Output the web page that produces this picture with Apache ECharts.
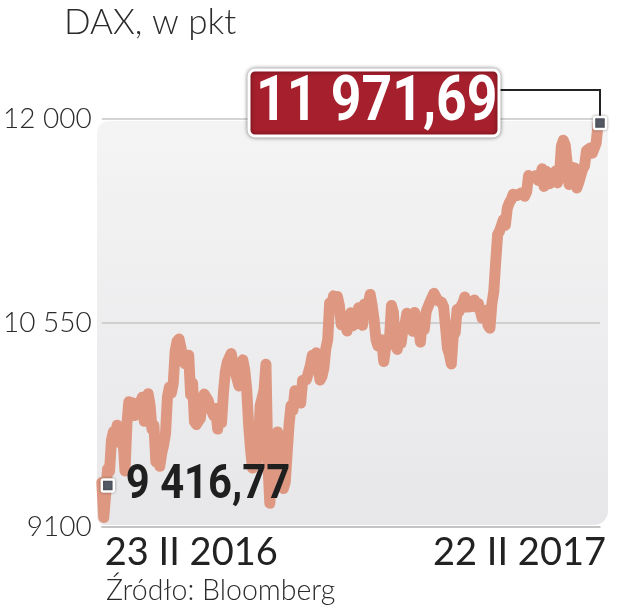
<!DOCTYPE html>
<html><head><meta charset="utf-8">
<script src="https://cdn.jsdelivr.net/npm/echarts@6/dist/echarts.min.js"></script>
<style>html,body{margin:0;padding:0;background:#fff}#c{width:618px;height:613px}</style>
</head><body><div id="c"></div>
<script>
const titleText = 'DAX, w pkt';
const sourceText = 'Źródło: Bloomberg';
const startDate = '2016-02-23';
const endDate = '2017-02-22';
const holidays = ['2016-03-25', '2016-03-28', '2016-12-26'];
const xTickLabels = ['23 II 2016', '22 II 2017'];
const yTicks = [9100, 10550, 12000];
const yTickLabels = ['9100', '10 550', '12 000'];
const startLabel = '9 416,77';
const endLabel = '11 971,69';
const values = [
  9416.77, 9168, 9331, 9513, 9495,
  9717, 9777, 9752, 9824, 9779, 9693, 9723, 9498, 9831, 9990, 9934, 9983, 9892, 9951, 9949, 9990, 10023, 9851, 9888, 10047, 9966,
  9795, 9822, 9563, 9624, 9531, 9622, 9683, 9762, 10026, 10094, 10052, 10120, 10350, 10421, 10436, 10374, 10294, 10260, 10300, 10321, 10039,
  10123, 9849, 9828, 9852, 9870, 9981, 10045, 10036, 10002, 9953, 9953, 9890, 9943, 9796, 9916, 9842, 10057, 10205, 10273, 10286, 10333, 10263,
  10204, 10208, 10103, 10121, 10288, 10217, 10089, 9835, 9657, 9519, 9607, 9551, 9631, 9962, 10016, 10071, 10257, 9557, 9269, 9447, 9612, 9680,
  9776, 9709, 9533, 9373, 9419, 9630, 9833, 9964, 9931, 10068, 10067, 10063, 9981, 10142, 10156, 10148, 10198, 10248, 10320, 10275, 10338,
  10331, 10144, 10170, 10228, 10367, 10432, 10693, 10651, 10743, 10713, 10739, 10677, 10538, 10603, 10544, 10494, 10593, 10623, 10530, 10588, 10544, 10658, 10593,
  10534, 10684, 10672, 10687, 10753, 10675, 10573, 10432, 10387, 10378, 10431, 10276, 10374, 10394, 10437, 10674, 10627, 10394, 10362, 10438, 10406, 10511,
  10540, 10620, 10586, 10569, 10491, 10624, 10577, 10523, 10414, 10580, 10504, 10632, 10646, 10701, 10711, 10761, 10757, 10710, 10717, 10696, 10665,
  10526, 10371, 10326, 10259, 10457, 10482, 10646, 10630, 10668, 10694, 10735, 10664, 10658, 10665, 10685, 10714, 10662, 10689, 10699, 10583, 10621, 10640,
  10534, 10513, 10685, 10775, 10987, 11179, 11204, 11190, 11285, 11245, 11366, 11404, 11427, 11465, 11469, 11456, 11450, 11473, 11475, 11451, 11481,
  11598, 11585, 11584, 11585, 11599, 11563, 11583, 11646, 11521, 11629, 11555, 11540, 11599, 11597, 11630, 11546, 11595, 11806, 11849, 11814, 11682, 11535,
  11660, 11627, 11652, 11510, 11549, 11543, 11643, 11667, 11774, 11772, 11794, 11757, 11757, 11828, 11968, 11971.69
];

// trading-day categories
const categories = [];
for (let d = new Date(startDate + 'T00:00:00Z'); d <= new Date(endDate + 'T00:00:00Z'); d.setUTCDate(d.getUTCDate() + 1)) {
  const wd = d.getUTCDay();
  const s = d.toISOString().slice(0, 10);
  if (wd === 0 || wd === 6 || holidays.indexOf(s) >= 0) continue;
  categories.push(s);
}

const chart = echarts.init(document.getElementById('c'), null, {renderer: 'canvas'});
const lastIdx = categories.length - 1;
const xLabelFont = {fontFamily: 'Lato', fontSize: 38, color: '#222222'};

chart.setOption({
  animation: false,
  backgroundColor: '#ffffff',
  title: [
    {text: titleText, left: 59, top: 0, textStyle: {fontFamily: 'Lato', fontWeight: 300, fontSize: 35, color: '#2b2b2b'}},
    {text: sourceText, left: 101, top: 571, textStyle: {fontFamily: 'Lato', fontWeight: 300, fontSize: 28.5, color: '#2b2b2b'}}
  ],
  grid: {left: 100, right: 18, top: 119, bottom: 86},
  xAxis: {
    type: 'category',
    data: categories,
    boundaryGap: false,
    axisLine: {show: true, lineStyle: {color: '#bdbdbd', width: 1.5}},
    axisTick: {show: false},
    splitLine: {show: false},
    axisLabel: {
      interval: function (i) { return i === 0 || i === lastIdx; },
      showMinLabel: true, showMaxLabel: true,
      alignMinLabel: 'left', alignMaxLabel: 'right',
      margin: 7,
      fontFamily: 'Lato', fontSize: 38, color: '#222222',
      rich: {
        first: Object.assign({padding: [0, 0, 0, 3]}, xLabelFont),
        last: Object.assign({padding: [0, -6, 0, 0]}, xLabelFont)
      },
      formatter: function (v, i) { return i === 0 ? '{first|' + xTickLabels[0] + '}' : '{last|' + xTickLabels[1] + '}'; }
    }
  },
  yAxis: {
    type: 'value',
    min: yTicks[0], max: yTicks[yTicks.length - 1],
    axisLine: {show: false},
    axisTick: {show: false, customValues: yTicks},
    splitLine: {show: true, lineStyle: {color: '#c6c6c6', width: 1.5}},
    axisLabel: {
      customValues: yTicks,
      margin: 10,
      fontFamily: 'Lato', fontWeight: 300, fontSize: 28, color: '#2b2b2b',
      formatter: function (v) { const k = yTicks.indexOf(v); return k >= 0 ? yTickLabels[k] : ''; }
    }
  },
  series: [{
    type: 'line',
    data: values,
    symbol: 'none',
    lineStyle: {color: '#de9882', width: 11, cap: 'round', join: 'round'},
    z: 3
  }]
});

const p0 = chart.convertToPixel({xAxisIndex: 0, yAxisIndex: 0}, [0, values[0]]);
const p1 = chart.convertToPixel({xAxisIndex: 0, yAxisIndex: 0}, [values.length - 1, values[values.length - 1]]);
const gTop = chart.convertToPixel({yAxisIndex: 0}, yTicks[2]);
const gBot = chart.convertToPixel({yAxisIndex: 0}, yTicks[0]);

const markerStyle = {fill: '#555b66', stroke: '#ffffff', lineWidth: 2.5, shadowBlur: 3, shadowColor: 'rgba(0,0,0,0.35)'};
const m0 = [p0[0] + 6, p0[1] + 3];
const bx = p1[0] - 351, by = p1[1] - 53, bw = 250, bh = 66;

chart.setOption({
  graphic: [
    {type: 'rect', z: -10, silent: true,
     shape: {x: 97, y: gTop + 2, width: 511, height: gBot - gTop - 4, r: [12, 4, 14, 8]},
     style: {fill: new echarts.graphic.LinearGradient(0, 0, 0, 1, [{offset: 0, color: '#f4f4f5'}, {offset: 1, color: '#e7e7e9'}])}},
    {type: 'polyline', z: 50, shape: {points: [[bx + bw, p1[1] - 33], [p1[0], p1[1] - 33], [p1[0], p1[1]]]},
     style: {stroke: '#222222', lineWidth: 2, fill: null}},
    {type: 'rect', z: 60, shape: {x: m0[0] - 6, y: m0[1] - 6, width: 12, height: 12, r: 1.5}, style: markerStyle},
    {type: 'rect', z: 60, shape: {x: p1[0] - 6, y: p1[1] - 6, width: 12, height: 12, r: 1.5}, style: markerStyle},
    {type: 'text', z: 60, x: m0[0] + 18, y: m0[1] + 1, scaleX: 0.87,
     style: {text: startLabel, fontFamily: 'Roboto', fontWeight: 'bold', fontSize: 48, fill: '#1f1f1f', align: 'left', verticalAlign: 'middle'}},
    {type: 'rect', z: 60, shape: {x: bx, y: by, width: bw, height: bh, r: 6},
     style: {fill: '#a51f2c', stroke: '#ffffff', lineWidth: 3, shadowBlur: 4, shadowColor: 'rgba(0,0,0,0.45)'}},
    {type: 'text', z: 61, x: bx + 7, y: by + bh / 2 + 1, scaleX: 0.85,
     style: {text: endLabel, fontFamily: 'Roboto', fontWeight: 'bold', fontSize: 63, fill: '#ffffff', align: 'left', verticalAlign: 'middle'}}
  ]
});
</script>
</body></html>
